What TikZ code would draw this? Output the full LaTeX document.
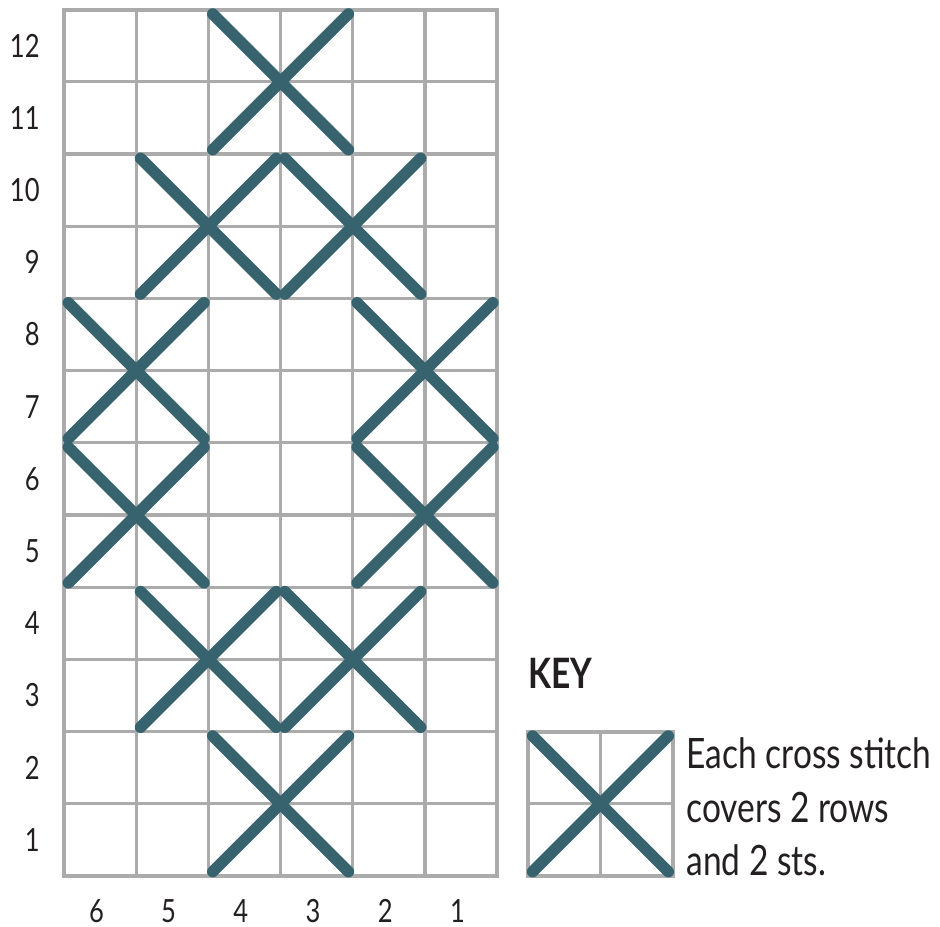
\documentclass[tikz,border=0pt]{standalone}
\usepackage{fontspec}
\setmainfont{Lato}[FakeStretch=0.8]
\definecolor{chartgrey}{HTML}{ABABAB}
\definecolor{stitchteal}{HTML}{36636E}
\definecolor{inkblack}{HTML}{231F20}
\tikzset{
  gridline/.style={line width=1.2pt, color=chartgrey},
  gridframe/.style={line width=1.6pt, color=chartgrey},
  stitch/.style={line width=4.5pt, color=stitchteal, line cap=round,
    shorten <=0.085cm, shorten >=0.085cm},
  numlabel/.style={inner sep=0pt, text=inkblack, font=\fontsize{12.6}{14}\selectfont},
  keylabel/.style={anchor=base west, inner sep=0pt, text=inkblack, font=\fontsize{16.5}{20}\selectfont}
}
\begin{document}
\begin{tikzpicture}
\useasboundingbox (-0.886,-0.693) rectangle (12.133,12.133);
% chart
\draw[gridline] (0,0) grid (6,12);
\draw[gridframe] (0,0) rectangle (6,12);
\foreach \r in {1,...,12}
  \node[numlabel, anchor=east] (row\r) at (-0.33,\r-0.5) {\r};
\foreach \c in {1,...,6}
  \node[numlabel] (col\c) at (6.45-\c,-0.49) {\c};
\foreach \x/\y in {3/11,2/9,4/9,1/7,5/7,1/5,5/5,2/3,4/3,3/1} {
  \draw[stitch] (\x-1,\y-1) -- (\x+1,\y+1);
  \draw[stitch] (\x-1,\y+1) -- (\x+1,\y-1);
}
% key
\node[keylabel, font=\fontsize{16.5}{20}\selectfont\bfseries] (keyhead) at (6.42,2.60) {KEY};
\begin{scope}[shift={(6.43,0)}]
\draw[gridline] (0,0) grid (2,2);
\draw[gridframe] (0,0) rectangle (2,2);
\draw[stitch] (0,0) -- (2,2);
\draw[stitch] (0,2) -- (2,0);
\end{scope}
\node[keylabel] (keyline1) at (8.615,1.495) {Each cross stitch};
\node[keylabel] (keyline2) at (8.615,0.748) {covers 2 rows};
\node[keylabel] (keyline3) at (8.615,0.014) {and 2 sts.};
\end{tikzpicture}
\end{document}
